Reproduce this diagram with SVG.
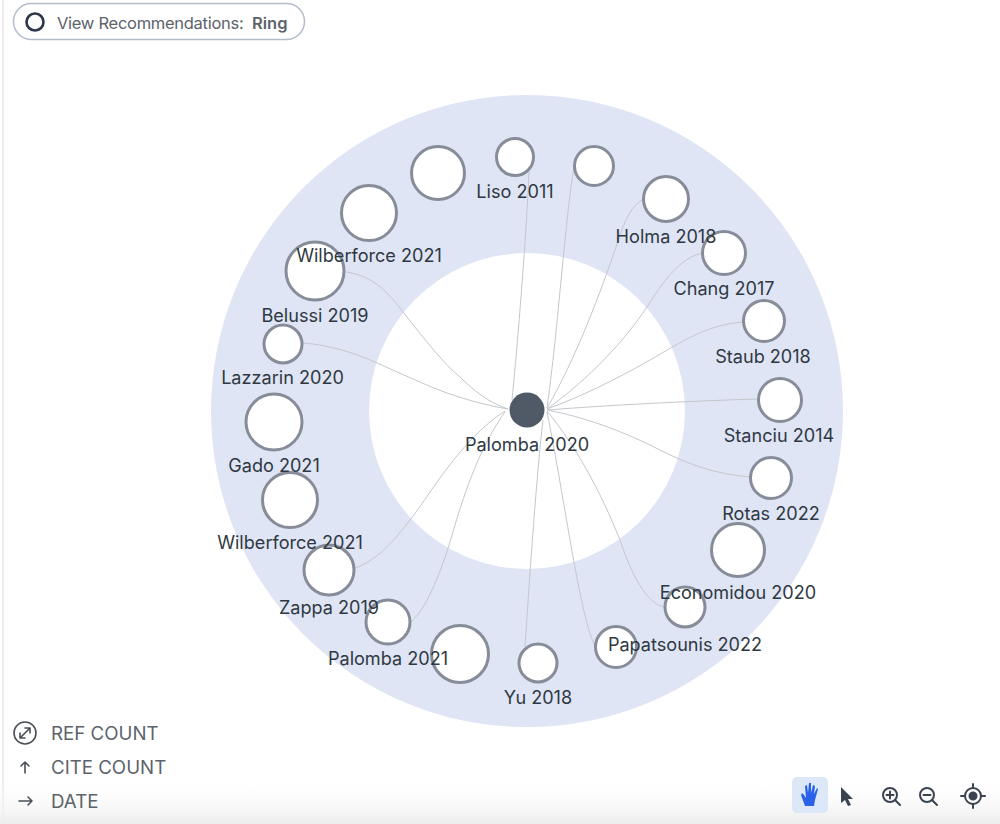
<svg xmlns="http://www.w3.org/2000/svg" width="1000" height="824" viewBox="0 0 1000 824">
<defs>
<linearGradient id="fade" x1="0" y1="0" x2="0" y2="1"><stop offset="0" stop-color="#fff" stop-opacity="0"/><stop offset="1" stop-color="#ececec"/></linearGradient>
</defs>
<style>
text{font-family:Inter,"Liberation Sans",sans-serif;font-size:18.100px;fill:#2f3842;text-anchor:middle}
.ui{text-anchor:start;fill:#5c636b;font-size:18.700px}
.n{fill:#fff;stroke:#868d98;stroke-width:3}
.e{fill:none;stroke:#c4c7cc;stroke-width:1}
.ic{fill:none;stroke:#4a5058;stroke-width:1.600;stroke-linecap:round;stroke-linejoin:round}
</style>
<rect width="1000" height="824" fill="#fff"/>
<rect x="2" y="0" width="2" height="824" fill="#ececee"/>
<rect x="0" y="780" width="1000" height="44" fill="url(#fade)"/>
<path fill="#dfe5f5" fill-rule="evenodd" d="M211 411a316 316 0 1 0 632 0a316 316 0 1 0 -632 0zM369 411a158 158 0 1 0 316 0a158 158 0 1 0 -316 0z"/>
<g id="connectors">
<path class="e" d="M529 172C526 240 518 340 512 400"/>
<path class="e" d="M574 168C566 210 558 330 547 408"/>
<path class="e" d="M644 199C632 205 626 218 620 235C600 295 575 360 547 408"/>
<path class="e" d="M703 253C685 256 668 273 647 307C625 340 590 378 547 409"/>
<path class="e" d="M743 322C705 325 680 343 650 360C615 380 580 397 547 409"/>
<path class="e" d="M758 399C690 401 610 405 547 410"/>
<path class="e" d="M750 477C715 474 690 465 660 450C625 432 585 417 547 410"/>
<path class="e" d="M664 607C650 604 635 585 620 540C600 490 575 445 547 411"/>
<path class="e" d="M596 648C580 620 565 500 547 412"/>
<path class="e" d="M525 647C530 570 537 470 543 420"/>
<path class="e" d="M411 622C430 605 445 560 455 525C470 475 485 440 505 412"/>
<path class="e" d="M355 568C375 562 395 540 410 520C430 495 460 440 505 411"/>
<path class="e" d="M303 343C330 345 355 353 377 363C400 373 425 385 447 393C470 401 490 406 508 409"/>
<path class="e" d="M346 272C375 276 390 295 403 312C425 340 445 365 460 377C475 392 490 403 508 409"/>
</g>
<g id="n-unnamed-1"><circle class="n" cx="438" cy="173" r="26.500"/></g>
<g id="n-unnamed-2"><circle class="n" cx="369" cy="213" r="27.500"/></g>
<g id="n-wilberforce-a"><circle class="n" cx="315" cy="271" r="29"/></g>
<g id="n-lazzarin"><circle class="n" cx="283" cy="344" r="19"/></g>
<g id="n-gado"><circle class="n" cx="274" cy="422" r="28"/></g>
<g id="n-wilberforce-b"><circle class="n" cx="290" cy="500" r="27.500"/></g>
<g id="n-zappa"><circle class="n" cx="329" cy="570" r="25"/></g>
<g id="n-palomba-2021"><circle class="n" cx="388" cy="622" r="22"/></g>
<g id="n-unnamed-3"><circle class="n" cx="460" cy="654" r="28.500"/></g>
<g id="n-yu"><circle class="n" cx="538" cy="663" r="19"/></g>
<g id="n-papatsounis"><circle class="n" cx="616" cy="647" r="20.500"/></g>
<g id="n-unnamed-4"><circle class="n" cx="685" cy="607" r="20"/></g>
<g id="n-economidou"><circle class="n" cx="738" cy="550" r="26.500"/></g>
<g id="n-rotas"><circle class="n" cx="771" cy="478" r="20.500"/></g>
<g id="n-stanciu"><circle class="n" cx="780" cy="400" r="21.500"/></g>
<g id="n-staub"><circle class="n" cx="764" cy="321" r="20.500"/></g>
<g id="n-chang"><circle class="n" cx="724" cy="253" r="21.500"/></g>
<g id="n-holma"><circle class="n" cx="666" cy="199" r="22.500"/></g>
<g id="n-unnamed-5"><circle class="n" cx="594" cy="166" r="19.500"/></g>
<g id="n-liso"><circle class="n" cx="515" cy="157" r="18.500"/></g>
<g id="n-palomba-2020"><circle cx="527" cy="410" r="17.500" fill="#4f5a66"/></g>
<g id="labels">
<text x="369" y="261.500">Wilberforce 2021</text>
<text x="315" y="321.500">Belussi 2019</text>
<text x="282.500" y="383.500">Lazzarin 2020</text>
<text x="274" y="471.500">Gado 2021</text>
<text x="290" y="548.500">Wilberforce 2021</text>
<text x="329" y="614">Zappa 2019</text>
<text x="388" y="665">Palomba 2021</text>
<text x="538" y="703.500">Yu 2018</text>
<text x="685" y="650.500">Papatsounis 2022</text>
<text x="738" y="598.500">Economidou 2020</text>
<text x="771" y="519.500">Rotas 2022</text>
<text x="779" y="441.500">Stanciu 2014</text>
<text x="763" y="363">Staub 2018</text>
<text x="724" y="295">Chang 2017</text>
<text x="666" y="243">Holma 2018</text>
<text x="515" y="198">Liso 2011</text>
<text x="527" y="451">Palomba 2020</text>
</g>
<g id="view-toggle">
<rect x="13.500" y="3.500" width="291" height="36" rx="18" fill="#fff" stroke="#b4bccb" stroke-width="1.500"/>
<circle cx="35" cy="22" r="8.500" fill="none" stroke="#2d3648" stroke-width="2.600"/>
<text class="ui" x="57" y="29" style="font-size:16.500px;letter-spacing:-.28px">View Recommendations:</text>
<text class="ui" x="252" y="29" style="font-size:16.500px;font-weight:600">Ring</text>
</g>
<g id="legend">
<circle class="ic" cx="25" cy="733" r="11"/>
<path class="ic" d="M20 738L30 728M25 728H30V733M20 733V738H25"/>
<path class="ic" d="M25 773V762M21 766L25 762L29 766"/>
<path class="ic" d="M19 801H32M28 797L32 801L28 805"/>
<text class="ui" x="51" y="740">REF COUNT</text>
<text class="ui" x="51" y="774">CITE COUNT</text>
<text class="ui" x="51" y="808">DATE</text>
</g>
<g id="toolbar">
<rect x="792" y="777" width="36" height="36" rx="5" fill="#dce8f8"/>
<path fill="#2962e8" d="M805 806L801 795L802 793L804 795L806 798L805 786L807 785L808 793L809 783L811 783L811 793L813 785L815 786L814 794L817 788L818 789L815 800L814 806Z"/>
<path fill="#3a4450" d="M841 787L853 799L848 799L851 805L848 806L845 800L841 803Z"/>
<g class="ic" style="stroke:#3a4450;stroke-width:2">
<circle cx="890" cy="795" r="7"/><path d="M895 800L900 805M886.500 795H893.500M890 791.500V798.500"/>
<circle cx="927" cy="795" r="7"/><path d="M932 800L937 805M923.500 795H930.500"/>
<circle cx="973" cy="796" r="8"/><path d="M973 784V788M973 804V808M961 796H965M981 796H985"/>
<circle cx="973" cy="796" r="3.500" fill="#3a4450"/>
</g>
</g>
</svg>
